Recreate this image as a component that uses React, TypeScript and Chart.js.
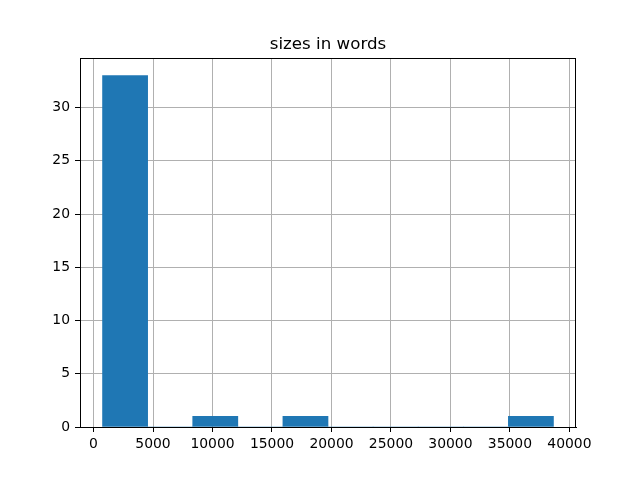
import React, { useEffect, useRef } from "react";
import { Chart, registerables } from "chart.js";

Chart.register(...registerables);

const TITLE = "sizes in words";
// histogram bin edges (10 bins) and counts
const binEdges = [758, 4548, 8338, 12128, 15918, 19708, 23498, 27288, 31078, 34868, 38658];
const counts = [33, 0, 1, 0, 1, 0, 0, 0, 0, 1];
const xTicks = [0, 5000, 10000, 15000, 20000, 25000, 30000, 35000, 40000];
const yTicks = [0, 5, 10, 15, 20, 25, 30];

const FONT = "'DejaVu Sans', sans-serif";

export default function App() {
  const ref = useRef<HTMLCanvasElement | null>(null);
  useEffect(() => {
    if (!ref.current) return;
    const span = binEdges[binEdges.length - 1] - binEdges[0];
    const xMin = binEdges[0] - span * 0.05;
    const xMax = binEdges[binEdges.length - 1] + span * 0.05;
    const yMax = Math.max(...counts) * 1.05;
    const data = counts.map((c, i) => ({ x: (binEdges[i] + binEdges[i + 1]) / 2, y: c }));

    const framePlugin = {
      id: "frame",
      afterDraw(chart: any) {
        const { ctx, chartArea } = chart;
        ctx.save();
        ctx.strokeStyle = "#000";
        ctx.lineWidth = 1;
        ctx.strokeRect(
          Math.round(chartArea.left) + 0.5,
          Math.round(chartArea.top) + 0.5,
          Math.round(chartArea.right - chartArea.left) - 1,
          Math.round(chartArea.bottom - chartArea.top)
        );
        ctx.fillStyle = "#000";
        ctx.font = `16.67px ${FONT}`;
        ctx.textAlign = "center";
        ctx.textBaseline = "alphabetic";
        ctx.fillText(TITLE, (chartArea.left + chartArea.right) / 2, chartArea.top - 9);
        ctx.restore();
      },
    };

    const chart = new Chart(ref.current, {
      type: "bar",
      data: {
        datasets: [
          {
            data,
            backgroundColor: "#1f77b4",
            borderWidth: 0,
            barPercentage: 1,
            categoryPercentage: 1,
          },
        ],
      },
      options: {
        animation: false,
        responsive: false,
        devicePixelRatio: 1,
        layout: { padding: { top: 58, right: 64, left: 0, bottom: 0 } },
        plugins: { legend: { display: false }, title: { display: false }, tooltip: { enabled: false } },
        scales: {
          x: {
            type: "linear",
            min: xMin,
            max: xMax,
            offset: false,
            z: 1,
            afterFit: (s: any) => {
              s.height = 53;
            },
            afterBuildTicks: (s: any) => {
              s.ticks = xTicks.map((v) => ({ value: v }));
            },
            grid: {
              offset: false,
              color: "#b0b0b0",
              lineWidth: 1,
              tickColor: "#000",
              tickWidth: 1,
              tickLength: 5,
            },
            border: { color: "#000", width: 1 },
            ticks: {
              color: "#000",
              font: { family: FONT, size: 13.9 },
              padding: 4,
              maxRotation: 0,
              autoSkip: false,
              includeBounds: false,
              callback: (v: any) => String(v),
            },
          },
          y: {
            type: "linear",
            min: 0,
            max: yMax,
            z: 1,
            afterFit: (s: any) => {
              s.width = 80;
            },
            afterBuildTicks: (s: any) => {
              s.ticks = yTicks.map((v) => ({ value: v }));
            },
            grid: {
              color: "#b0b0b0",
              lineWidth: 1,
              tickColor: "#000",
              tickWidth: 1,
              tickLength: 5,
            },
            border: { color: "#000", width: 1 },
            ticks: {
              color: "#000",
              font: { family: FONT, size: 13.9 },
              padding: 5,
              autoSkip: false,
              includeBounds: false,
              callback: (v: any) => String(v),
            },
          },
        },
      },
      plugins: [framePlugin],
    });
    return () => chart.destroy();
  }, []);
  return (
    <div style={{ position: "absolute", left: 0, top: 0, width: 640, height: 480, background: "#fff" }}>
      <canvas ref={ref} width={640} height={480} />
    </div>
  );
}
